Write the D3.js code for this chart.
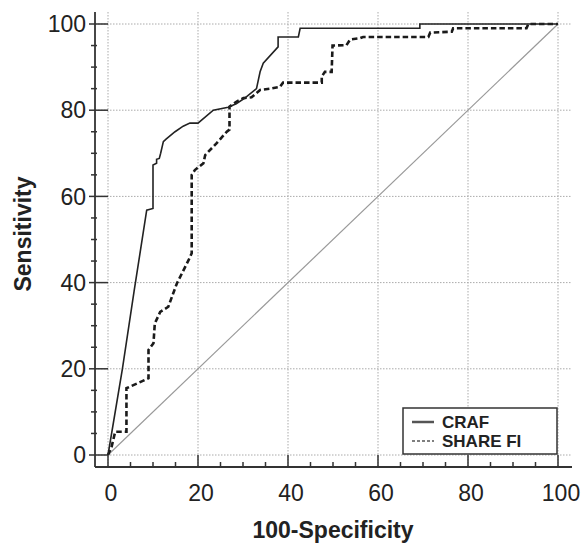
<!DOCTYPE html>
<html>
<head>
<meta charset="utf-8">
<script src="https://cdn.jsdelivr.net/npm/d3@7"></script>
<style>
  body { margin: 0; background: #fff; }
  text { font-family: "Liberation Sans", Arial, sans-serif; fill: #222; }
</style>
</head>
<body>
<svg id="chart"></svg>
<script>
// ROC points [100-specificity, sensitivity]
const crafPoints = [
  [0, 0], [3.2, 20], [5.8, 38], [8.6, 56.8], [10, 57.2], [10, 67.3], [10.8, 67.7], [10.8, 68.6],
  [11.4, 68.8], [11.7, 70], [12.3, 72.7], [12.9, 73.3], [14.9, 75], [16.7, 76.3],
  [18.2, 77], [20, 77], [23.4, 80], [26.7, 80.7], [28.5, 81.5], [30.4, 82.8], [33, 85],
  [33.8, 88.9], [34.5, 90.9], [37.8, 94.7], [37.8, 97], [42.3, 97], [42.7, 99],
  [69.3, 99], [69.3, 100], [100, 100]
];
const shareFiPoints = [
  [0, 0], [0.8, 1.9], [1.6, 5.4], [4.1, 5.4], [4.1, 15.5], [8.2, 17.4], [9, 17.8],
  [9, 24.4], [10.1, 25.9], [10.4, 30.5], [11.6, 33.2], [13.4, 34.4], [15.3, 39.8],
  [17.9, 45.2], [18.6, 46.8], [18.6, 65], [19.3, 66.1], [21.2, 67.7], [21.6, 69.6],
  [24.1, 72.3], [26.4, 75], [27, 75.5], [27, 80.8], [28.6, 82], [30.1, 82.8],
  [31.9, 83], [33.8, 84.7], [36, 85], [38.2, 85.4], [38.9, 86.4], [47.5, 86.4],
  [47.5, 87.8], [48.2, 88.9], [49.7, 88.9], [49.9, 95], [53, 95.1], [53.8, 96.4],
  [56, 96.7], [56.7, 97], [71.2, 97], [71.6, 98], [76.4, 98.2], [76.7, 99],
  [93, 99], [93.4, 100], [100, 100]
];
const diagonal = [[0, 0], [100, 100]];
const majorTicks = [0, 20, 40, 60, 80, 100];
const minorTicks = d3.range(0, 101, 5).filter(v => v % 20 !== 0);
const seriesNames = ['CRAF', 'SHARE FI'];

const width = 586;
const height = 546;

const svg = d3.select('#chart')
  .attr('width', width)
  .attr('height', height);

// escalas
const x = d3.scaleLinear().domain([0, 100]).range([108, 558]);
const y = d3.scaleLinear().domain([0, 100]).range([455, 24]);

const axisX = 95;    // posicao da linha do eixo y
const axisY = 467;   // posicao da linha do eixo x
const plotRight = 572;
const plotTop = 12;

// grade pontilhada
svg.append('g')
  .selectAll('line')
  .data(majorTicks)
  .join('line')
  .attr('x1', d => x(d)).attr('x2', d => x(d))
  .attr('y1', plotTop).attr('y2', axisY)
  .attr('stroke', '#aaa').attr('stroke-width', 1)
  .attr('stroke-dasharray', '1.5,1.5');

svg.append('g')
  .selectAll('line')
  .data(majorTicks)
  .join('line')
  .attr('x1', axisX).attr('x2', plotRight)
  .attr('y1', d => y(d)).attr('y2', d => y(d))
  .attr('stroke', '#aaa').attr('stroke-width', 1)
  .attr('stroke-dasharray', '1.5,1.5');

// eixos
const axisColor = '#333';
svg.append('line')
  .attr('x1', axisX).attr('x2', axisX)
  .attr('y1', plotTop).attr('y2', axisY)
  .attr('stroke', axisColor).attr('stroke-width', 1.8);
svg.append('line')
  .attr('x1', axisX).attr('x2', plotRight)
  .attr('y1', axisY).attr('y2', axisY)
  .attr('stroke', axisColor).attr('stroke-width', 1.8);

// ticks do eixo y
svg.append('g').selectAll('line').data(majorTicks).join('line')
  .attr('x1', axisX - 6).attr('x2', x(0))
  .attr('y1', d => y(d)).attr('y2', d => y(d))
  .attr('stroke', axisColor).attr('stroke-width', 1.5);
svg.append('g').selectAll('line').data(minorTicks).join('line')
  .attr('x1', axisX - 4).attr('x2', axisX + 2)
  .attr('y1', d => y(d)).attr('y2', d => y(d))
  .attr('stroke', axisColor).attr('stroke-width', 1.5);

// ticks do eixo x
svg.append('g').selectAll('line').data(majorTicks).join('line')
  .attr('x1', d => x(d)).attr('x2', d => x(d))
  .attr('y1', y(0)).attr('y2', axisY + 1)
  .attr('stroke', axisColor).attr('stroke-width', 1.5);
svg.append('g').selectAll('line').data(minorTicks).join('line')
  .attr('x1', d => x(d)).attr('x2', d => x(d))
  .attr('y1', axisY - 5).attr('y2', axisY + 1)
  .attr('stroke', axisColor).attr('stroke-width', 1.5);

// rotulos dos ticks
svg.append('g').selectAll('text').data(majorTicks).join('text')
  .attr('x', 86)
  .attr('y', d => y(d))
  .attr('dy', '0.36em')
  .attr('text-anchor', 'end')
  .attr('font-size', '23px')
  .text(d => d);

svg.append('g').selectAll('text').data(majorTicks).join('text')
  .attr('x', d => x(d) + 3)
  .attr('y', 501)
  .attr('text-anchor', 'middle')
  .attr('font-size', '23px')
  .text(d => d);

// titulos
svg.append('text')
  .attr('x', 333)
  .attr('y', 538)
  .attr('text-anchor', 'middle')
  .attr('font-size', '23px')
  .attr('font-weight', 'bold')
  .text('100-Specificity');

svg.append('text')
  .attr('transform', 'translate(31,234) rotate(-90)')
  .attr('text-anchor', 'middle')
  .attr('font-size', '23px')
  .attr('font-weight', 'bold')
  .text('Sensitivity');

// linha de referencia
const line = d3.line().x(d => x(d[0])).y(d => y(d[1]));

svg.append('path')
  .datum(diagonal)
  .attr('fill', 'none')
  .attr('stroke', '#999')
  .attr('stroke-width', 1.2)
  .attr('d', line);

// curvas ROC
svg.append('path')
  .datum(shareFiPoints)
  .attr('fill', 'none')
  .attr('stroke', '#1a1a1a')
  .attr('stroke-width', 2.6)
  .attr('stroke-dasharray', '5.5,3')
  .attr('d', line);

svg.append('path')
  .datum(crafPoints)
  .attr('fill', 'none')
  .attr('stroke', '#222')
  .attr('stroke-width', 1.6)
  .attr('d', line);

// legenda
const legend = svg.append('g').attr('transform', 'translate(403,408)');
legend.append('rect')
  .attr('width', 154).attr('height', 46)
  .attr('fill', '#fff')
  .attr('stroke', '#333').attr('stroke-width', 1.5);

const legendStyles = [
  { dash: null, width: 2.5 },
  { dash: '3,2', width: 1.5 }
];
seriesNames.forEach((name, i) => {
  const row = legend.append('g').attr('transform', `translate(0, ${14 + i * 19})`);
  row.append('line')
    .attr('x1', 9).attr('x2', 31)
    .attr('stroke', '#555')
    .attr('stroke-width', legendStyles[i].width)
    .attr('stroke-dasharray', legendStyles[i].dash);
  row.append('text')
    .attr('x', 39)
    .attr('dy', '0.36em')
    .attr('font-size', '17px')
    .attr('font-weight', 'bold')
    .text(name);
});
</script>
</body>
</html>
